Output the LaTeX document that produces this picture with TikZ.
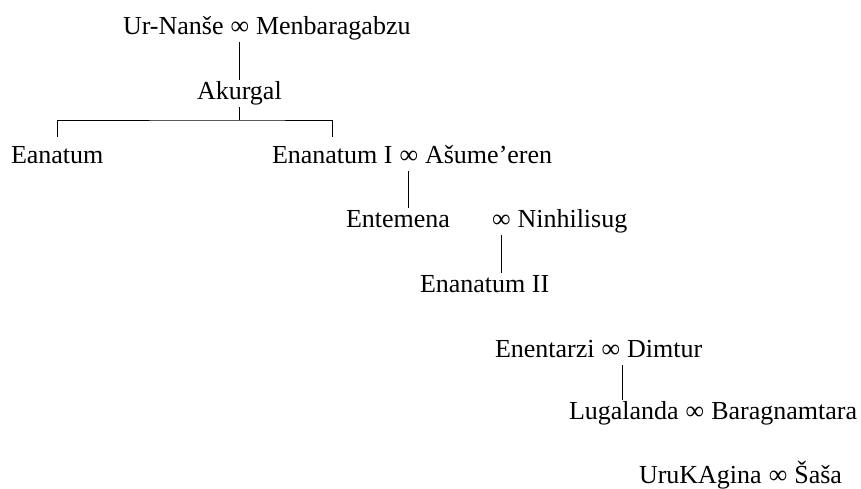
\documentclass[tikz,border=0pt]{standalone}
\usepackage{fontspec}
\setmainfont{Liberation Serif}
\usetikzlibrary{positioning}

\begin{document}
\begin{tikzpicture}[x=1pt,y=-1pt,
        person/.style={inner sep=0pt,outer sep=2pt,text height=17pt,text depth=6pt,
            font=\fontsize{26}{30}\selectfont},
        wed/.style={person},
        node distance=3pt]
    \useasboundingbox (0,0) rectangle (861,488);
    %Ur-Nanse et Akurgal
    \node[person,anchor=base west] (urnanse) at (121,34) {Ur-Nanše};
    \node[wed,right=of urnanse] (w1) {∞};
    \node[person,right=of w1] (menbaragabzu) {Menbaragabzu};
    \node[person,anchor=base west] (akurgal) at (195,99) {Akurgal};
    \coordinate[below=13pt of akurgal.south] (fork);
    %Eanatum et Enanatum I
    \node[person,anchor=base west] (eanatum) at (9,163) {Eanatum};
    \node[person,anchor=base west] (enanatumI) at (270,163) {Enanatum I};
    \node[wed,right=of enanatumI] (w2) {∞};
    \node[person,right=of w2] (asumeeren) {Ašume’eren};
    %Entemena
    \node[person,anchor=base west] (entemena) at (344,227) {Entemena};
    \node[wed,anchor=base west] (w3) at (490,227) {∞};
    \node[person,right=of w3] (ninhilisug) {Ninhilisug};
    \node[person,anchor=base west] (enanatumII) at (418,292) {Enanatum II};
    %Enentarzi, Lugalanda, UruKAgina
    \node[person,anchor=base west] (enentarzi) at (493,357) {Enentarzi};
    \node[wed,right=of enentarzi] (w4) {∞};
    \node[person,right=of w4] (dimtur) {Dimtur};
    \node[person,anchor=base west] (lugalanda) at (567,419) {Lugalanda};
    \node[wed,right=of lugalanda] (w5) {∞};
    \node[person,right=of w5] (baragnamtara) {Baragnamtara};
    \node[person,anchor=base west] (urukagina) at (637,483) {UruKAgina};
    \node[wed,right=of urukagina] (w6) {∞};
    \node[person,right=of w6] (sasa) {Šaša};
    %Filiations
    \draw[line width=0.8pt] (akurgal.north) -- (akurgal.north |- urnanse.south);
    \draw[line width=0.8pt] (akurgal.south) -- (fork);
    \draw[line width=0.8pt] ([yshift=7pt]eanatum.north) |- (fork) -| ([yshift=7pt]enanatumI.north);
    \draw[line width=0.8pt] (w2.south) -- (w2.south |- entemena.north);
    \draw[line width=0.8pt] (w3.south) -- (w3.south |- enanatumII.north);
    \draw[line width=0.8pt] (w4.south east) -- (w4.south east |- lugalanda.north);
\end{tikzpicture}
\end{document}
